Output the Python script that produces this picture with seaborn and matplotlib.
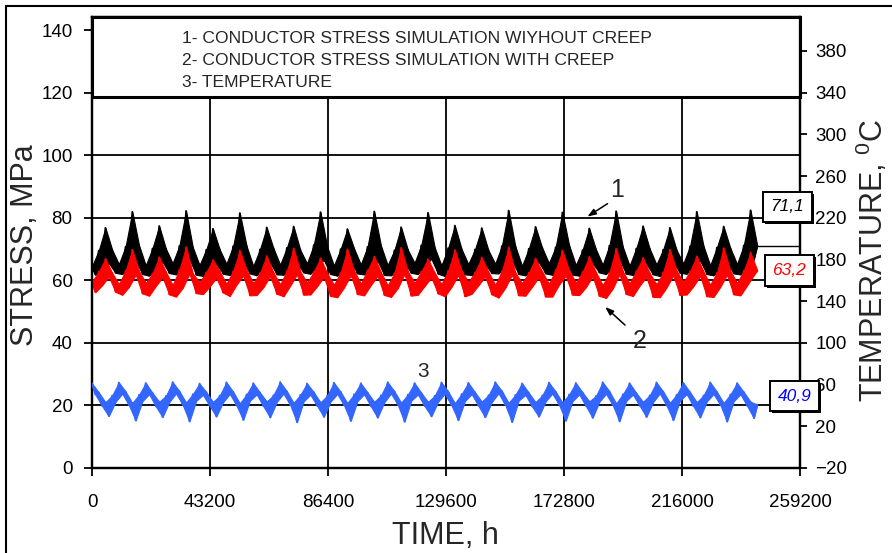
import numpy as np
import pandas as pd
import matplotlib
matplotlib.use("Agg")
import matplotlib.pyplot as plt
import matplotlib.patheffects as pe
import matplotlib.transforms as mtransforms
from matplotlib.patches import Rectangle
from matplotlib.lines import Line2D
import seaborn as sns

sns.set_style("white")
plt.rcParams["font.family"] = ["Liberation Sans", "DejaVu Sans"]
plt.rcParams["mathtext.fontset"] = "custom"
plt.rcParams["mathtext.rm"] = "Liberation Sans"
plt.rcParams["mathtext.it"] = "Liberation Sans:italic"

# sampling interval of the records, hours
STEP_H = 1230

# 1 - conductor stress without creep, MPa (one row per seasonal cycle)
stress_no_creep = [
    64.5, 61.8, 69.5, 63.2, 76.8, 65.5, 69.8, 62.4,
    65.2, 62.0, 70.8, 64.1, 81.9, 66.3, 71.2, 62.0,
    64.8, 61.5, 70.2, 63.8, 77.4, 65.9, 70.1, 62.3,
    65.5, 61.9, 71.0, 64.4, 82.2, 66.8, 70.6, 61.8,
    64.9, 61.4, 69.8, 63.5, 76.5, 65.2, 69.9, 62.1,
    65.3, 61.7, 70.9, 64.0, 81.5, 66.1, 71.0, 62.2,
    64.6, 61.6, 69.9, 63.7, 76.9, 65.7, 70.3, 61.9,
    65.0, 61.8, 70.4, 63.3, 77.2, 65.4, 69.7, 62.5,
    65.4, 62.1, 71.3, 64.6, 81.8, 66.5, 70.8, 62.0,
    64.7, 61.5, 70.0, 63.6, 76.4, 65.8, 70.2, 62.2,
    65.1, 61.9, 70.7, 64.2, 82.0, 66.2, 71.1, 61.7,
    64.9, 61.6, 69.6, 63.4, 77.0, 65.3, 69.8, 62.4,
    65.6, 62.0, 71.2, 64.5, 81.6, 66.9, 70.5, 62.1,
    64.8, 61.4, 70.3, 63.9, 77.5, 65.6, 70.0, 61.9,
    65.2, 61.7, 69.9, 63.2, 76.7, 65.1, 69.6, 62.3,
    65.3, 62.2, 71.0, 64.3, 82.3, 66.4, 70.9, 62.0,
    64.6, 61.6, 70.1, 63.7, 77.1, 65.8, 70.4, 62.2,
    65.5, 61.8, 70.6, 64.0, 81.7, 66.0, 71.3, 61.8,
    64.9, 61.5, 69.7, 63.5, 76.6, 65.5, 69.9, 62.5,
    65.0, 62.0, 71.1, 64.4, 82.1, 66.6, 70.7, 62.1,
    64.7, 61.7, 70.2, 63.8, 77.3, 65.3, 70.1, 61.9,
    65.1, 61.4, 69.8, 63.3, 76.8, 65.9, 69.7, 62.4,
    65.4, 62.1, 70.9, 64.7, 81.9, 66.3, 71.0, 62.0,
    64.8, 61.6, 70.5, 63.6, 77.2, 65.6, 70.3, 62.2,
    65.2, 61.9, 71.2, 64.2, 82.4, 66.7, 71.1,
]

# 2 - conductor stress with creep, MPa
stress_creep = [
    59.6, 56.2, 62.8, 58.4, 66.9, 61.2, 62.4, 56.3,
    58.8, 55.4, 63.1, 57.9, 69.8, 61.8, 63.0, 55.8,
    59.2, 55.1, 62.2, 58.2, 67.4, 61.0, 62.7, 55.5,
    58.5, 54.8, 63.4, 57.6, 70.6, 62.1, 62.2, 55.9,
    59.4, 55.6, 62.6, 58.0, 66.5, 60.8, 62.9, 56.1,
    58.9, 55.0, 62.9, 58.6, 69.5, 61.5, 63.3, 55.2,
    59.1, 55.3, 62.4, 57.8, 67.8, 61.3, 62.5, 55.7,
    58.7, 54.9, 63.0, 58.3, 70.2, 61.9, 62.8, 55.4,
    59.3, 55.5, 62.7, 58.1, 67.1, 61.1, 62.3, 55.0,
    58.6, 54.6, 62.5, 57.7, 69.9, 61.6, 63.1, 55.6,
    59.0, 55.2, 63.2, 58.5, 67.6, 61.4, 62.6, 55.3,
    58.4, 54.7, 62.3, 57.5, 70.4, 62.0, 62.9, 55.1,
    59.2, 55.4, 62.8, 58.2, 66.8, 60.9, 62.4, 55.8,
    58.8, 54.9, 63.1, 57.9, 69.7, 61.7, 63.0, 54.9,
    59.5, 55.7, 62.6, 58.4, 67.3, 61.2, 62.7, 55.5,
    58.6, 54.5, 62.9, 57.6, 70.5, 61.8, 62.5, 55.2,
    59.1, 55.1, 62.4, 58.0, 67.0, 61.0, 62.8, 54.8,
    58.9, 54.8, 63.3, 58.6, 69.6, 61.5, 63.2, 55.4,
    59.3, 55.3, 62.7, 57.8, 67.5, 61.3, 62.6, 55.0,
    58.5, 54.4, 62.5, 57.4, 70.1, 61.9, 62.9, 55.6,
    59.0, 55.0, 63.0, 58.3, 67.2, 61.1, 62.3, 54.7,
    58.7, 54.6, 62.6, 57.7, 69.8, 61.6, 63.1, 55.3,
    59.4, 55.5, 62.9, 58.1, 67.7, 61.4, 62.8, 54.9,
    58.6, 54.7, 62.4, 57.9, 70.3, 61.8, 63.0, 55.5,
    59.2, 55.2, 63.1, 58.4, 68.9, 61.7, 63.2,
]

# 3 - conductor temperature, degC
temperature = [
    61.2, 50.4, 52.6, 39.5, 43.1, 29.8, 49.6, 43.5,
    62.0, 51.3, 53.4, 40.2, 42.4, 25.6, 50.3, 44.1,
    61.6, 50.8, 52.1, 39.1, 43.6, 28.9, 49.2, 43.2,
    62.4, 51.6, 53.8, 40.6, 42.8, 24.7, 50.8, 44.4,
    61.0, 50.2, 52.9, 39.8, 43.3, 29.4, 49.5, 43.0,
    62.2, 51.1, 53.2, 40.0, 42.1, 26.1, 50.6, 44.6,
    61.4, 50.6, 52.4, 39.3, 43.8, 28.6, 49.9, 43.4,
    62.5, 51.4, 53.6, 40.4, 42.6, 23.9, 50.2, 44.0,
    61.1, 50.3, 52.8, 39.6, 43.0, 29.1, 49.4, 43.7,
    61.9, 51.0, 53.1, 40.3, 42.3, 25.2, 50.7, 44.2,
    61.3, 50.7, 52.5, 39.2, 43.5, 28.4, 49.7, 43.1,
    62.3, 51.5, 53.7, 40.7, 42.7, 24.4, 50.4, 44.5,
    61.5, 50.5, 52.2, 39.4, 43.4, 29.6, 49.3, 43.6,
    62.1, 51.2, 53.5, 40.1, 42.2, 25.8, 50.9, 44.3,
    61.7, 50.9, 52.7, 39.7, 43.7, 28.8, 49.8, 43.3,
    62.4, 51.7, 53.9, 40.5, 42.5, 24.1, 50.1, 44.7,
    61.2, 50.1, 52.3, 39.0, 43.2, 29.3, 49.6, 43.8,
    62.0, 51.4, 53.3, 40.8, 42.9, 25.4, 50.5, 44.0,
    61.6, 50.6, 52.6, 39.5, 43.9, 28.2, 49.1, 43.5,
    62.3, 51.2, 53.6, 40.3, 42.0, 24.8, 50.8, 44.4,
    61.4, 50.4, 52.0, 39.8, 43.5, 29.0, 49.7, 43.2,
    62.1, 51.5, 53.4, 40.0, 42.6, 25.9, 50.3, 44.6,
    61.8, 50.8, 52.8, 39.3, 43.1, 28.5, 49.5, 43.9,
    62.2, 51.0, 53.1, 40.6, 42.4, 24.6, 50.6, 44.1,
    61.5, 50.7, 52.9, 39.6, 43.6, 27.9, 40.9,
]

time_ticks = [0, 43200, 86400, 129600, 172800, 216000, 259200]
stress_ticks = [0, 20, 40, 60, 80, 100, 120, 140]
temp_ticks = [-20, 20, 60, 100, 140, 180, 220, 260, 300, 340, 380]
legend_lines = [
    "1- CONDUCTOR STRESS SIMULATION WIYHOUT CREEP",
    "2- CONDUCTOR STRESS SIMULATION WITH CREEP",
    "3- TEMPERATURE",
]

STRESS_MAX = 144.2
TEMP_PER_MPA = 3.0
TEMP_MIN = -20.0

hours = np.arange(len(stress_no_creep)) * STEP_H
df = pd.DataFrame({
    "time": hours,
    "no_creep": stress_no_creep,
    "creep": stress_creep,
    "temp": temperature,
})

fig = plt.figure(figsize=(8.92, 5.53), dpi=100)
ax = fig.add_axes([92 / 892, 1 - 468 / 553, 708 / 892, 451 / 553])
ax2 = ax.twinx()


def draw_record(target, column, color, z):
    """Shade the daily swing of a record and trace the record on top."""
    s = df[column]
    mid = ((s.shift(1) + s.shift(-1)) / 2).fillna(s)
    upper = np.maximum(s, mid)
    lower = np.minimum(s, mid)
    target.fill_between(df["time"], lower, upper, color=color,
                        linewidth=0.8, edgecolor=color, zorder=z)
    sns.lineplot(data=df, x="time", y=column, ax=target, color=color,
                 linewidth=1.3, estimator=None, sort=False, zorder=z + 0.05)


draw_record(ax, "no_creep", "black", 3)
draw_record(ax, "creep", "#ff0000", 3.2)
draw_record(ax2, "temp", "#3366ff", 3)

ax.set_xlim(0, 259200)
ax.set_ylim(0, STRESS_MAX)
ax2.set_ylim(TEMP_MIN, TEMP_MIN + TEMP_PER_MPA * STRESS_MAX)
ax.set_xticks(time_ticks)
ax.set_xticklabels([str(v) for v in time_ticks])
ax.set_yticks(stress_ticks)
ax2.set_yticks(temp_ticks)
ax.set_xlabel("")
ax.set_ylabel("")
ax2.set_ylabel("")

ax.set_axisbelow(True)
ax.grid(True, color="black", linewidth=1.3)
ax2.grid(False)

for a in (ax, ax2):
    for sp in a.spines.values():
        sp.set_color("black")
        sp.set_linewidth(1.6)

ax.tick_params(axis="y", direction="out", length=6, width=1.3, pad=8,
               labelsize=13.5, left=True, colors="black")
ax.tick_params(axis="x", direction="out", length=6, width=1.3, pad=13,
               labelsize=13.5, bottom=True, colors="black")
ax2.tick_params(axis="y", direction="out", length=5, width=1.3, pad=6,
                labelsize=13.5, right=True, colors="black")

# header box with the series descriptions
blend = mtransforms.blended_transform_factory(ax.transAxes, ax.transData)
box_bottom = 118.7
ax.add_patch(Rectangle((0, box_bottom), 1, STRESS_MAX - box_bottom,
                       transform=blend, facecolor="white", edgecolor="black",
                       linewidth=2.2, zorder=5, clip_on=False))
for line, y in zip(legend_lines, [137.4, 130.4, 123.4]):
    ax.text(0.127, y, line, transform=blend, fontsize=12.6, va="center",
            ha="left", zorder=6)

# curve numbers and arrows
ax.text(192200, 89.0, "1", fontsize=18, ha="center", va="center")
ax.annotate("", xy=(180500, 79.9), xytext=(189600, 85.0),
            arrowprops=dict(arrowstyle="-|>,head_length=0.5,head_width=0.18",
                            color="black", lw=1.1))
ax.text(200600, 40.6, "2", fontsize=18, ha="center", va="center")
ax.annotate("", xy=(187100, 52.1), xytext=(195900, 45.1),
            arrowprops=dict(arrowstyle="-|>,head_length=0.5,head_width=0.18",
                            color="black", lw=1.1))
ax.text(121200, 30.7, "3", fontsize=15, ha="center", va="center")


# final values of each record
def fmt(v):
    return f"{v:.1f}".replace(".", ",")


last_t = hours[-1]
ax.plot([last_t, 259200], [stress_no_creep[-1], stress_no_creep[-1]],
        color="black", linewidth=1.0, zorder=3)

shadow = [pe.SimplePatchShadow(offset=(1.5, -1.5), shadow_rgbFace="black",
                               alpha=1.0), pe.Normal()]
value_boxes = [
    (254600, 83.5, fmt(stress_no_creep[-1]), "black"),
    (255300, 63.1, fmt(stress_creep[-1]), "#ff0000"),
    (257200, 23.0, fmt(temperature[-1]), "#0000ff"),
]
for x, y, s, c in value_boxes:
    t = ax2.text(x, y, s, transform=ax.transData, color=c, fontsize=12.5,
                 style="italic", ha="center", va="center", zorder=10,
                 clip_on=False,
                 bbox=dict(boxstyle="square,pad=0.45", facecolor="white",
                           edgecolor="black", linewidth=1.4))
    t.get_bbox_patch().set_path_effects(shadow)

# axis titles
fig.text(445 / 892, 1 - 536 / 553, "TIME, h", fontsize=22,
         ha="center", va="center")
fig.text(25 / 892, 1 - 245 / 553, "STRESS, MPa", fontsize=22,
         ha="center", va="center", rotation=90)
fig.text(872 / 892, 1 - 260 / 553, r"TEMPERATURE, $^{0}$C", fontsize=22,
         ha="center", va="center", rotation=90)

# outer frame
fig.add_artist(Line2D([6 / 892, 6 / 892], [0, 1 - 6 / 553],
                      transform=fig.transFigure, color="black", linewidth=1.5))
fig.add_artist(Line2D([6 / 892, 1], [1 - 6 / 553, 1 - 6 / 553],
                      transform=fig.transFigure, color="black", linewidth=1.5))

fig.savefig("out.png", dpi=100)
